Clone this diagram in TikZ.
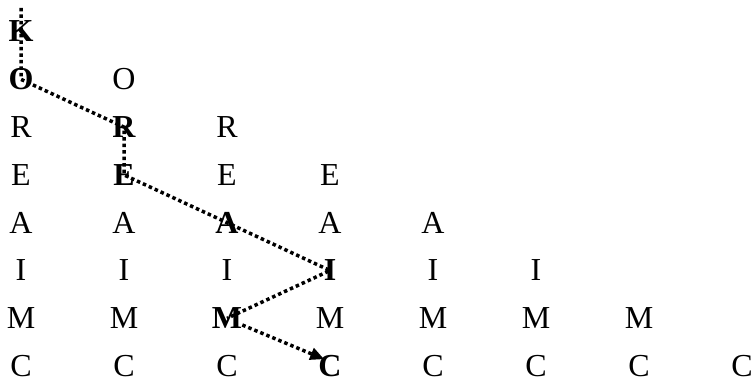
\documentclass[tikz,border=0pt]{standalone}
\usepackage{fontspec}
\setmainfont{Liberation Serif}
\usetikzlibrary{arrows.meta}

\makeatletter
\newcommand\kmpath{,0-0,0-1,1-2,1-3,2-4,3-5,2-6,3-7,}
\newcommand\kmweight[1]{\edef\kmtest{\noexpand\in@{,#1,}{\kmpath}}\kmtest
  \ifin@\bfseries\else\mdseries\fi}
\makeatother

\tikzset{letter/.style={anchor=base,inner sep=0pt,font=\fontsize{32}{38}\selectfont},
  walk/.style={line width=3.5pt,dash pattern=on 3.5pt off 3pt}}

\begin{document}
\begin{tikzpicture}[x=1pt,y=1pt]
\useasboundingbox (0,0) rectangle (756,383);
% columns: the word, each one starting one row lower
\foreach \c in {0,...,7}{
  \foreach \l [count=\r from 0] in {K,O,R,E,A,I,M,C}{
    \ifnum\r<\c\else
      \node[letter] (l\c\r) at ({21+103*\c},{341-47.8*\r}) {\kmweight{\c-\r}\l};
    \fi
  }
}
\coordinate (top) at (21,375);
\draw[walk] (top) -- (l00.center) -- (l01.center) -- (l12.center)
  -- (l13.center) -- (l24.center) -- (l35.center) -- (l26.center);
\draw[walk,-{Triangle[length=14pt,width=12pt]}] ([yshift=4pt]l26.south east)
  -- ([xshift=6pt,yshift=-4pt]l37.north west);
\end{tikzpicture}
\end{document}
